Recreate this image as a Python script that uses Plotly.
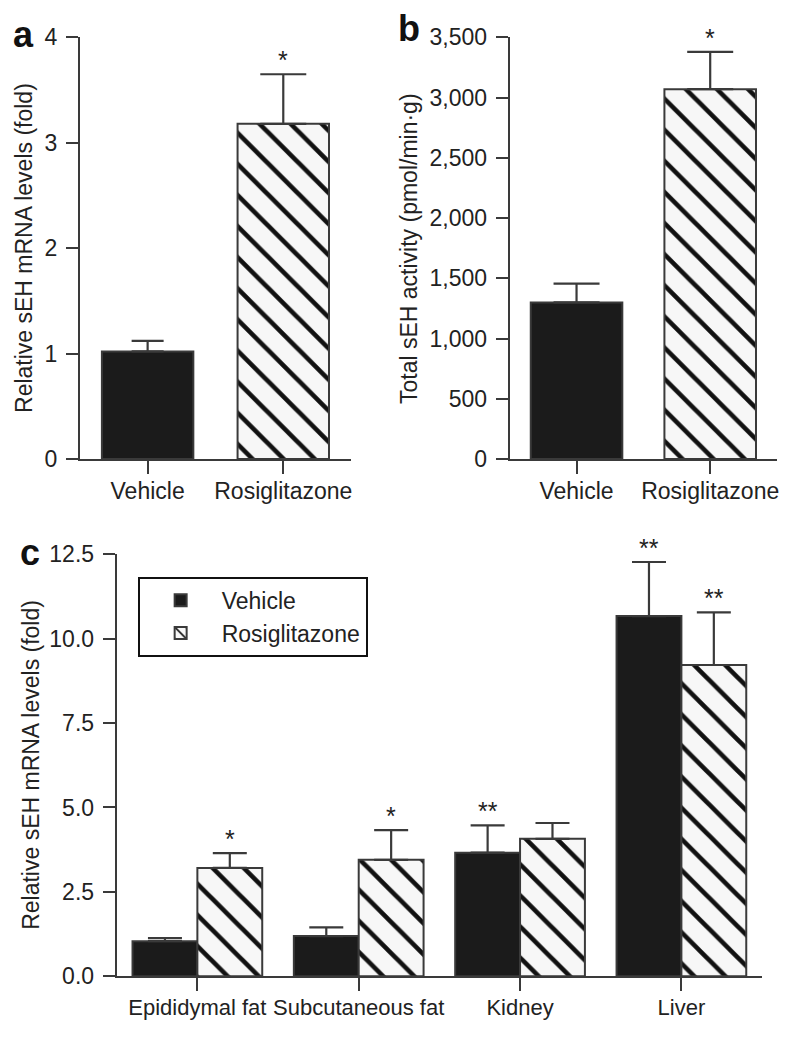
import plotly.graph_objects as go

# ---------------- data ----------------
groups_ab = ["Vehicle", "Rosiglitazone"]

a_values = [1.02, 3.18]
a_errors = [0.10, 0.47]
a_stars = ["", "*"]

b_values = [1300, 3070]
b_errors = [155, 310]
b_stars = ["", "*"]

tissues = ["Epididymal fat", "Subcutaneous fat", "Kidney", "Liver"]
c_vehicle = [1.04, 1.19, 3.66, 10.67]
c_vehicle_err = [0.09, 0.26, 0.81, 1.60]
c_vehicle_stars = ["", "", "**", "**"]
c_rosi = [3.21, 3.45, 4.07, 9.22]
c_rosi_err = [0.44, 0.88, 0.47, 1.56]
c_rosi_stars = ["*", "*", "", "**"]

# ---------------- style ----------------
W, H = 792, 1050
FONT = "Liberation Sans, Arial, Helvetica, sans-serif"
FS = 23
INK = "#222222"
AX = "#3a3a3a"
BLACK_FILL = "#1b1b1b"
EDGE = "#3a3a3a"

def px_x(p):
    return p / W

def px_y(p):
    return 1 - p / H

def vehicle_marker():
    return dict(color=BLACK_FILL, line=dict(color=EDGE, width=2))

def rosi_marker():
    return dict(color="white", line=dict(color=EDGE, width=2),
                pattern=dict(shape="\\", size=22, solidity=0.21,
                             fgcolor="#111111", bgcolor="#f7f7f7", fillmode="replace"))

def err(vals, w):
    return dict(type="data", symmetric=False, array=vals, arrayminus=[0] * len(vals),
                color=AX, thickness=2.2, width=w)

fig = go.Figure()

# ---- panel a ----
wa = 0.674
fig.add_trace(go.Bar(x=[groups_ab[0]], y=[a_values[0]], error_y=err([a_errors[0]], 16),
                     width=wa, offset=-wa / 2, marker=vehicle_marker(),
                     xaxis="x", yaxis="y", showlegend=False))
fig.add_trace(go.Bar(x=[groups_ab[1]], y=[a_values[1]], error_y=err([a_errors[1]], 23),
                     width=wa, offset=-wa / 2, marker=rosi_marker(),
                     xaxis="x", yaxis="y", showlegend=False))

# ---- panel b ----
wb = 0.685
fig.add_trace(go.Bar(x=[groups_ab[0]], y=[b_values[0]], error_y=err([b_errors[0]], 23),
                     width=wb, offset=-wb / 2, marker=vehicle_marker(),
                     xaxis="x2", yaxis="y2", showlegend=False))
fig.add_trace(go.Bar(x=[groups_ab[1]], y=[b_values[1]], error_y=err([b_errors[1]], 23),
                     width=wb, offset=-wb / 2, marker=rosi_marker(),
                     xaxis="x2", yaxis="y2", showlegend=False))

# ---- panel c ----
wc = 0.402
fig.add_trace(go.Bar(name="Vehicle", x=tissues, y=c_vehicle, error_y=err(c_vehicle_err, 17),
                     width=wc, offset=-wc, marker=vehicle_marker(),
                     xaxis="x3", yaxis="y3", legendgroup="v"))
fig.add_trace(go.Bar(name="Rosiglitazone", x=tissues, y=c_rosi, error_y=err(c_rosi_err, 17),
                     width=wc, offset=0, marker=rosi_marker(),
                     xaxis="x3", yaxis="y3", legendgroup="r"))

# ---------------- axes ----------------
def xax(domain, anchor, cats, fs=FS):
    return dict(domain=domain, anchor=anchor, type="category", categoryorder="array",
                categoryarray=cats, range=[-0.5, len(cats) - 0.5], tickangle=0,
                showline=True, linewidth=2, linecolor=AX, ticks="outside", ticklen=13,
                tickwidth=2, tickcolor=AX, showgrid=False, zeroline=False,
                tickfont=dict(family=FONT, size=fs, color=INK), ticklabelstandoff=-3,
                fixedrange=True)

def yax(domain, anchor, rng, dtick, fmt):
    return dict(domain=domain, anchor=anchor, range=rng, dtick=dtick, tick0=0,
                tickformat=fmt, showline=True, linewidth=2, linecolor=AX,
                ticks="outside", ticklen=12, tickwidth=2, tickcolor=AX,
                showgrid=False, zeroline=False,
                tickfont=dict(family=FONT, size=FS, color=INK), ticklabelstandoff=4,
                fixedrange=True)

ydom_ab = [px_y(457.3), px_y(25)]
ydom_c = [px_y(987.7), px_y(555)]

annotations = []

def star_ann(xref, yref, x, y, text):
    return dict(xref=xref, yref=yref, x=x, y=y, text=text, showarrow=False,
                xanchor="center", yanchor="bottom", yshift=-2,
                font=dict(family=FONT, size=25, color=INK))

for i, s in enumerate(a_stars):
    if s:
        annotations.append(star_ann("x", "y", i, a_values[i] + a_errors[i], s))
for i, s in enumerate(b_stars):
    if s:
        annotations.append(star_ann("x2", "y2", i, b_values[i] + b_errors[i], s))
for i, s in enumerate(c_vehicle_stars):
    if s:
        annotations.append(star_ann("x3", "y3", i - wc / 2, c_vehicle[i] + c_vehicle_err[i], s))
for i, s in enumerate(c_rosi_stars):
    if s:
        annotations.append(star_ann("x3", "y3", i + wc / 2, c_rosi[i] + c_rosi_err[i], s))

def ytitle(x, y, text):
    return dict(xref="paper", yref="paper", x=px_x(x), y=px_y(y), text=text,
                textangle=-90, showarrow=False, xanchor="center", yanchor="middle",
                font=dict(family=FONT, size=FS, color=INK))

annotations.append(ytitle(24, 241, "Relative sEH mRNA levels (fold)"))
annotations.append(ytitle(410, 241, "Total sEH activity (pmol/min·g)"))
annotations.append(ytitle(31, 771, "Relative sEH mRNA levels (fold)"))

def panel_label(x, y, text):
    return dict(xref="paper", yref="paper", x=px_x(x), y=px_y(y), text="<b>%s</b>" % text,
                showarrow=False, xanchor="center", yanchor="middle",
                font=dict(family=FONT, size=36, color="#111111"))

annotations.append(panel_label(24, 22, "a"))
annotations.append(panel_label(410, 16, "b"))
annotations.append(panel_label(30, 553, "c"))

fig.update_layout(
    width=W, height=H,
    margin=dict(l=0, r=0, t=0, b=0),
    paper_bgcolor="white", plot_bgcolor="white",
    barmode="group",
    xaxis=xax([px_x(80), px_x(352)], "y", groups_ab),
    yaxis=yax(ydom_ab, "x", [0, 4], 1, "d"),
    xaxis2=xax([px_x(511), px_x(779)], "y2", groups_ab),
    yaxis2=yax(ydom_ab, "x2", [0, 3500], 500, ",d"),
    xaxis3=xax([px_x(117), px_x(764)], "y3", tissues, fs=22),
    yaxis3=yax(ydom_c, "x3", [0, 12.5], 2.5, ".1f"),
    showlegend=True,
    legend=dict(x=px_x(138), y=px_y(578), xanchor="left", yanchor="top",
                bordercolor="#111111", borderwidth=2, bgcolor="white",
                font=dict(family=FONT, size=FS, color=INK),
                itemwidth=72, traceorder="normal", tracegroupgap=2),
    annotations=annotations,
    font=dict(family=FONT, color=INK),
)

fig.write_html("out.html", config={"displayModeBar": False},
               post_script="document.body.style.margin='0px';")
